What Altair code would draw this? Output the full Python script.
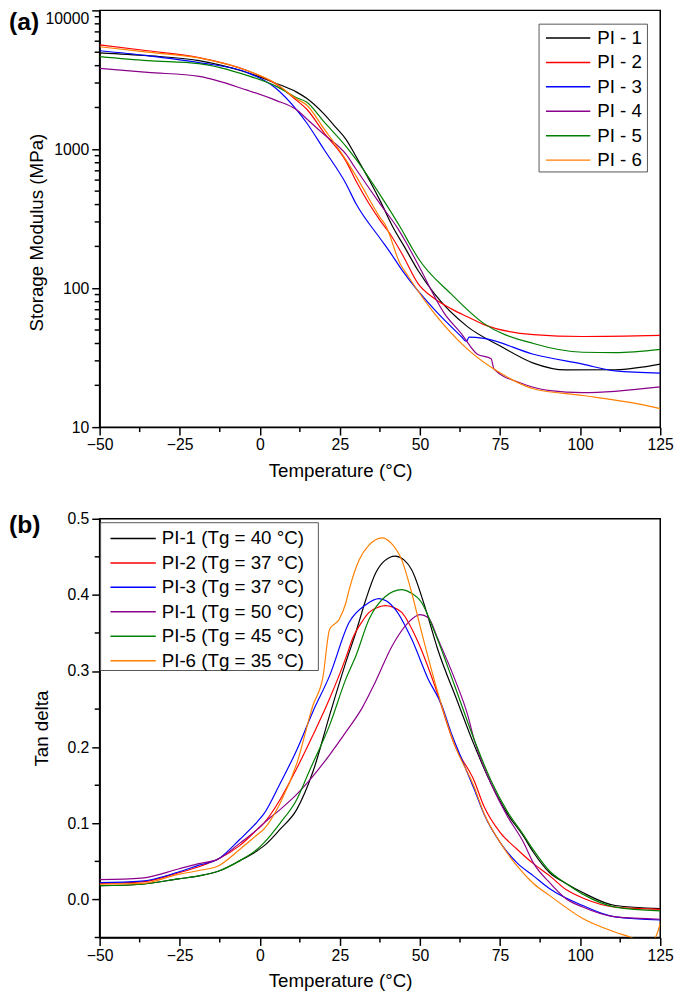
import altair as alt
import pandas as pd

SERIES = ["PI-1", "PI-2", "PI-3", "PI-4", "PI-5", "PI-6"]
COLORS = ["#000000", "#ff0000", "#0000ff", "#8b008b", "#008000", "#ff7f00"]
LEG_A = ["PI - 1", "PI - 2", "PI - 3", "PI - 4", "PI - 5", "PI - 6"]
LEG_B = ["PI-1 (Tg = 40 °C)", "PI-2 (Tg = 37 °C)", "PI-3 (Tg = 37 °C)",
         "PI-1 (Tg = 50 °C)", "PI-5 (Tg = 45 °C)", "PI-6 (Tg = 35 °C)"]

X_TICKS = [-50, -25, 0, 25, 50, 75, 100, 125]
X_MINOR = [-37.5, -12.5, 12.5, 37.5, 62.5, 87.5, 112.5]
E_TICKS = [10, 100, 1000, 10000]
E_MINOR = [20, 30, 40, 50, 60, 70, 80, 90, 200, 300, 400, 500, 600, 700, 800, 900,
           2000, 3000, 4000, 5000, 6000, 7000, 8000, 9000]
D_TICKS = [0.0, 0.1, 0.2, 0.3, 0.4, 0.5]
D_MINOR = [-0.05, 0.05, 0.15, 0.25, 0.35, 0.45]

# ---- (a) storage modulus (MPa) ----
e_t1 = [-50, -35, -19, -4, 5, 11.5, 14.6, 20, 23.8, 26.9, 30, 37.7, 41.7, 44.8, 49.4, 54.6, 64.8, 75.2, 85.4, 95.5, 111, 125]
e_v1 = [4950, 4720, 4350, 3570, 2990, 2580, 2330, 1800, 1430, 1180, 890, 420, 271, 205, 134, 90.6, 52.9, 38.2, 28.9, 25.8, 25.9, 28.4]
e_t2 = [-50, -35, -19, -4, 5, 11.5, 14.6, 20, 26.9, 30, 37.7, 40.2, 44.5, 49.4, 54.6, 59.8, 65, 70, 85.4, 100.8, 125]
e_v2 = [5650, 5120, 4570, 3690, 2950, 2250, 1950, 1320, 822, 593, 304, 255, 175, 108, 84, 71, 62, 54.7, 46.4, 44.9, 45.7]
e_t3 = [-50, -35, -19, -4, 5, 11.5, 14.6, 20, 26.9, 30, 37.7, 40.2, 44.5, 54.6, 62.9, 64.5, 65.3, 70, 85.4, 100.8, 111, 125]
e_v3 = [5120, 4720, 4207, 3574, 2750, 1923, 1553, 1000, 565, 407, 226, 188, 134, 69.8, 44.9, 41.4, 44.5, 43.5, 33.5, 28.4, 25.4, 24.5]
e_t4 = [-50, -35, -19, -4, 5, 11.5, 14.6, 20, 26.9, 30, 37.7, 43, 45.4, 49.4, 57.7, 62.9, 67.9, 72.2, 73.1, 81.4, 90.6, 100.8, 125]
e_v4 = [3820, 3574, 3350, 2665, 2250, 1923, 1660, 1280, 922, 721, 400, 271, 219, 148, 65.4, 47.2, 33.5, 31.1, 26.2, 20.8, 18.3, 17.7, 19.5]
e_t5 = [-50, -35, -19, -4, 5, 11.5, 14.6, 20, 26.9, 30, 37.7, 44, 47.5, 49.4, 59.8, 70, 85.4, 100.8, 111, 125]
e_v5 = [4645, 4346, 4140, 3404, 2850, 2350, 2190, 1580, 1050, 849, 464, 271, 195, 165, 90.6, 55.6, 40, 34.6, 34.4, 36.3]
e_t6 = [-50, -35, -19, -4, 5, 11.5, 14.6, 20, 26.9, 30, 37.7, 39.2, 43.8, 46.3, 54.6, 64.9, 75.1, 85.4, 100.8, 116, 125]
e_v6 = [5470, 5000, 4550, 3690, 2980, 2300, 2085, 1409, 840, 644, 319, 285, 150, 122, 65.4, 36.3, 24.5, 18.9, 16.9, 15, 13.6]

# ---- (b) tan delta ----
d_t1 = [-50, -37, -25.4, -19, -13, -6.2, -0.8, 1.2, 6.3, 11.5, 16.6, 21.8, 26.9, 30, 33.1, 36.2, 39, 42.3, 45, 47.4, 51.5, 55.5, 61.7, 66.9, 72.2, 77.2, 82.3, 85.4, 90.5, 95.6, 100.8, 111, 125]
d_v1 = [0.018, 0.020, 0.027, 0.031, 0.037, 0.051, 0.064, 0.070, 0.092, 0.118, 0.168, 0.242, 0.312, 0.351, 0.394, 0.429, 0.445, 0.451, 0.446, 0.433, 0.385, 0.329, 0.260, 0.203, 0.152, 0.113, 0.083, 0.062, 0.035, 0.021, 0.009, -0.008, -0.012]
d_t2 = [-50, -37, -25.4, -19, -13, -6.2, -0.8, 1.2, 6.3, 11.5, 16.6, 21.8, 26.9, 29, 32.1, 34.1, 37, 39.2, 41.5, 44.3, 49.4, 54.6, 60.8, 66.9, 70, 75, 80.3, 85.4, 90.5, 95.6, 100.8, 111, 125]
d_v2 = [0.021, 0.023, 0.035, 0.043, 0.053, 0.071, 0.092, 0.100, 0.131, 0.172, 0.216, 0.264, 0.318, 0.343, 0.366, 0.377, 0.384, 0.386, 0.384, 0.377, 0.338, 0.281, 0.203, 0.156, 0.122, 0.088, 0.066, 0.047, 0.031, 0.013, 0.002, -0.010, -0.013]
d_t3 = [-50, -37, -25.4, -19, -13, -6.2, -0.8, 1.2, 6.3, 11.5, 16.6, 21.8, 27.9, 33.1, 37.2, 42.3, 47.4, 52.5, 56.8, 59.8, 61.8, 66.9, 70, 75, 80.3, 85.4, 90.5, 100.8, 111, 125]
d_v3 = [0.022, 0.024, 0.036, 0.045, 0.053, 0.079, 0.102, 0.112, 0.152, 0.196, 0.247, 0.294, 0.364, 0.387, 0.395, 0.381, 0.342, 0.290, 0.255, 0.218, 0.197, 0.145, 0.112, 0.075, 0.048, 0.031, 0.014, -0.008, -0.023, -0.027]
d_t4 = [-50, -37, -25.4, -19, -13, -6.2, -0.8, 1.2, 6.3, 11.5, 16.6, 21.8, 26.9, 32, 36, 41.3, 46.4, 50, 52.6, 55.6, 60.8, 64.9, 66.9, 72.2, 77.2, 82.3, 85.4, 90.5, 95.6, 100.8, 111, 125]
d_v4 = [0.026, 0.028, 0.040, 0.047, 0.053, 0.074, 0.092, 0.100, 0.118, 0.138, 0.162, 0.190, 0.220, 0.252, 0.285, 0.333, 0.364, 0.374, 0.370, 0.342, 0.290, 0.242, 0.210, 0.152, 0.110, 0.075, 0.048, 0.022, 0.001, -0.010, -0.023, -0.026]
d_t5 = [-50, -37, -25.4, -19, -13, -6.2, -0.8, 1.2, 6.3, 11.5, 15.6, 21.8, 26.9, 30, 34.1, 39.2, 44.3, 47, 50.5, 54.6, 60.8, 66.9, 72.2, 77.2, 82.3, 85.4, 90.5, 95.6, 100.8, 111, 125]
d_v5 = [0.018, 0.020, 0.027, 0.031, 0.037, 0.051, 0.066, 0.074, 0.100, 0.131, 0.170, 0.229, 0.290, 0.320, 0.368, 0.398, 0.407, 0.403, 0.390, 0.351, 0.281, 0.210, 0.156, 0.116, 0.085, 0.065, 0.037, 0.021, 0.007, -0.010, -0.015]
d_t6 = [-50, -37, -25.4, -19, -13, -6.2, -0.8, 1.2, 6.3, 11.5, 16.6, 19.7, 21.8, 24.8, 26.9, 27.9, 31, 34, 38.2, 41, 44.3, 47.4, 50.5, 54.6, 60.8, 66.9, 70, 75, 80.3, 85.4, 90.5, 100.8, 111, 116, 119, 122, 124, 125]
d_v6 = [0.020, 0.021, 0.033, 0.038, 0.044, 0.066, 0.085, 0.092, 0.126, 0.178, 0.255, 0.292, 0.355, 0.368, 0.390, 0.407, 0.446, 0.465, 0.475, 0.468, 0.446, 0.403, 0.351, 0.286, 0.203, 0.148, 0.113, 0.075, 0.044, 0.021, 0.005, -0.025, -0.043, -0.050, -0.056, -0.056, -0.045, -0.031]

FONT = "Liberation Sans"
W = 569
HA = 423
HB = 425


def frame(ts, vs):
    rows = []
    for s, t, v in zip(SERIES, ts, vs):
        for a, b in zip(t, v):
            rows.append({"series": s, "T": a, "v": b})
    return pd.DataFrame(rows)


df_e = frame([e_t1, e_t2, e_t3, e_t4, e_t5, e_t6], [e_v1, e_v2, e_v3, e_v4, e_v5, e_v6])
df_d = frame([d_t1, d_t2, d_t3, d_t4, d_t5, d_t6], [d_v1, d_v2, d_v3, d_v4, d_v5, d_v6])

cscale = alt.Scale(domain=SERIES, range=COLORS)
xscale = alt.Scale(domain=[-50, 125], nice=False, zero=False)


def panel(df, yscale, yaxis, minor_y, h, labels, box, line_x, text_x, row_range, tag, tag_y):
    xaxis = alt.Axis(values=X_TICKS, format="d", title="Temperature (°C)", tickSize=8,
                     labelPadding=2, labelFlush=False, titleX=244, titleY=35, grid=False)
    lines = alt.Chart(df).mark_line(strokeWidth=1.2, clip=True, interpolate="monotone").encode(
        x=alt.X("T:Q", scale=xscale, axis=xaxis),
        y=alt.Y("v:Q", scale=yscale, axis=yaxis),
        color=alt.Color("series:N", scale=cscale, legend=None),
    )
    mx = alt.Chart(pd.DataFrame({"T": X_MINOR})).mark_rule(color="black", strokeWidth=1.5).encode(
        x=alt.X("T:Q", scale=xscale, axis=xaxis), y=alt.value(h), y2=alt.value(h + 5))
    my = alt.Chart(pd.DataFrame({"m": minor_y})).mark_rule(color="black", strokeWidth=1.5).encode(
        y=alt.Y("m:Q", scale=yscale, axis=None), x=alt.value(-5), x2=alt.value(0))
    ldf = pd.DataFrame({"series": SERIES, "label": labels})
    yleg = alt.Y("label:N", scale=alt.Scale(type="point", domain=labels, range=list(row_range), padding=0),
                 axis=None)
    lbox = alt.Chart(pd.DataFrame({"a": [0]})).mark_rect(fill="white", stroke="#555555", strokeWidth=1).encode(
        x=alt.value(box[0]), x2=alt.value(box[1]), y=alt.value(box[2]), y2=alt.value(box[3]))
    lrules = alt.Chart(ldf).mark_rule(strokeWidth=1.5).encode(
        x=alt.value(line_x[0]), x2=alt.value(line_x[1]), y=yleg,
        color=alt.Color("series:N", scale=cscale, legend=None))
    ltext = alt.Chart(ldf).mark_text(align="left", baseline="middle", fontSize=19, font=FONT, color="black").encode(
        x=alt.value(text_x), y=yleg, text="label:N")
    ptag = alt.Chart(pd.DataFrame({"t": [tag]})).mark_text(
        align="left", baseline="top", fontSize=25, fontWeight="bold", font=FONT, color="black").encode(
        x=alt.value(-92), y=alt.value(tag_y), text="t:N")
    return alt.layer(lines, mx, my, lbox, lrules, ltext, ptag).resolve_scale(y="independent").properties(
        width=W, height=h)


yscale_e = alt.Scale(type="log", domain=[10, 10000], nice=False)
yaxis_e = alt.Axis(values=E_TICKS, format="d", title="Storage Modulus (MPa)", tickSize=8, labelPadding=3,
                   titleX=-54, titleY=225, grid=False,
                   labelBaseline={"condition": {"test": "datum.value >= 10000", "value": "top"}, "value": "middle"})
top = panel(df_e, yscale_e, yaxis_e, E_MINOR, HA, LEG_A, (446, 556, 14, 164), (453, 498), 505, (28, 152),
            "(a)", 0)

yscale_d = alt.Scale(domain=[-0.05, 0.5], nice=False, zero=False)
yaxis_d = alt.Axis(values=D_TICKS, format=".1f", title="Tan delta", tickSize=8, labelPadding=3,
                   titleX=-49, grid=False)
bottom = panel(df_d, yscale_d, yaxis_d, D_MINOR, HB, LEG_B, (1, 222, 4, 154), (11, 57), 63, (20, 144),
               "(b)", -6)

chart = alt.vconcat(top, bottom, spacing=29).properties(
    padding={"left": 0, "top": -7, "right": 2, "bottom": 0}, background="white"
).configure_view(stroke="black", strokeWidth=1.5).configure_axis(
    domainColor="black", domainWidth=1.5, tickColor="black", tickWidth=1.5,
    labelColor="black", titleColor="black", labelFont=FONT, titleFont=FONT,
    labelFontSize=16, titleFontSize=19, titleFontWeight="normal", grid=False)

chart.save("out.html", embed_options={"renderer": "svg", "actions": False})
